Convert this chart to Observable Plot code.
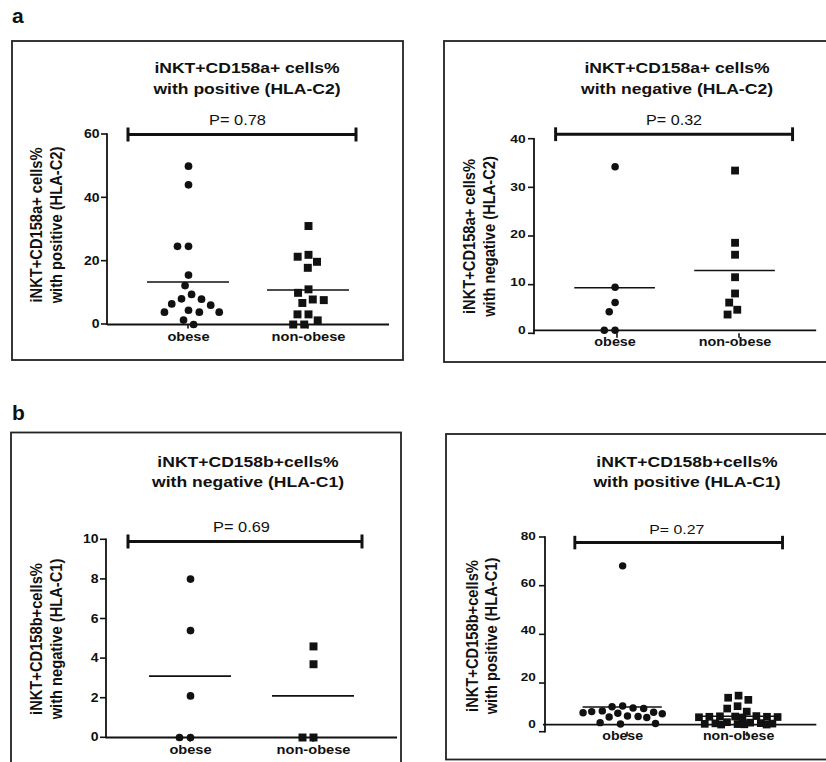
<!DOCTYPE html>
<html><head><meta charset="utf-8">
<script src="https://cdn.jsdelivr.net/npm/d3@7"></script>
<script src="https://cdn.jsdelivr.net/npm/@observablehq/plot@0.6"></script>
<style>
html,body{margin:0;padding:0;background:#fff;}
#page{position:relative;width:826px;height:762px;overflow:hidden;background:#fff;font-family:"Liberation Sans",Arial,Helvetica,sans-serif;}
.plot{position:absolute;}
.plot svg{overflow:visible;}
#overlay{position:absolute;left:0;top:0;pointer-events:none;}
</style></head><body><div id="page"></div>
<script>
// ---------- data ----------
const groups = ["obese", "non-obese"];

// a (left): iNKT+CD158a+ cells% with positive (HLA-C2)
const a1Obese = [50, 44.1, 24.7, 24.7, 15.6, 12.3, 9.5, 8.1, 8.0, 6.5, 6.1, 4.5, 3.9, 3.9, 3.9, 1.4, 0];
const a1NonObese = [31.1, 22.0, 21.4, 19.8, 17.9, 11.1, 10.0, 7.9, 7.7, 6.8, 3.2, 3.2, 1.3, 0, 0];
const a1Means = [13.4, 10.9];

// a (right): iNKT+CD158a+ cells% with negative (HLA-C2)
const a2Obese = [34.2, 9.0, 5.8, 3.9, 0, 0];
const a2NonObese = [33.4, 18.3, 15.8, 11.1, 7.7, 5.8, 4.3, 3.3];
const a2Means = [8.9, 12.5];

// b (left): iNKT+CD158b+cells% with negative (HLA-C1)
const b1Obese = [8.0, 5.4, 2.1, 0, 0];
const b1NonObese = [4.6, 3.7, 0, 0];
const b1Means = [3.1, 2.1];

// b (right): iNKT+CD158b+cells% with positive (HLA-C1)
const b2Obese = [67.5, 7.9, 7.6, 7.0, 6.8, 5.8, 5.5, 5.2, 5.0, 4.8, 4.6, 3.6, 3.4, 3.2, 3.0, 0.8, 0.4, 0.2];
const b2NonObese = [12.3, 11.4, 10.5, 7.8, 6.8, 5.5, 3.6, 3.5, 3.4, 3.3, 3.3, 3.2, 3.1, 3.0, 1.0, 0.8, 0.6, 0.5, 0.4, 0.3, 0.2, 0.1, 0, 0];
const b2Means = [7.5, 3.5];

const pLabels = ["P= 0.78", "P= 0.32", "P= 0.69", "P= 0.27"];
const pBarValues = [60, 41, 9.9, 77.4];
const yTickValues = [[0, 20, 40, 60], [0, 10, 20, 30, 40], [0, 2, 4, 6, 8, 10], [0, 20, 40, 60, 80]];
const titleLines = [
  ["iNKT+CD158a+ cells%", "with positive (HLA-C2)"],
  ["iNKT+CD158a+ cells%", "with negative (HLA-C2)"],
  ["iNKT+CD158b+cells%", "with negative (HLA-C1)"],
  ["iNKT+CD158b+cells%", "with positive (HLA-C1)"]
];
const yLabelLines = titleLines;
const panelLetters = ["a", "b"];

// ---------- layout (pixels) ----------
const layouts = [
  {axisLeft:107, axisRight:389, yTop:134, y0:324, bracketL:128, bracketR:356, pX:237, box:[12,41,391,319], titleX:247, titleY:[73.3,94], ylabX:[41.7,61.5], ylabY:225},
  {axisLeft:534, axisRight:822, yTop:138.7, y0:333.3, bracketL:557, bracketR:798, pX:677, box:[444,41,500,321], titleX:677, titleY:[73.3,94], ylabX:[475,494.5], ylabY:236.5},
  {axisLeft:106, axisRight:397, yTop:539.3, y0:737.3, bracketL:128, bracketR:362, pX:241, box:[11,432.5,390,400], titleX:248, titleY:[466.7,487.3], ylabX:[41.7,61.5], ylabY:639},
  {axisLeft:545, axisRight:828, yTop:537, y0:731.7, bracketL:578, bracketR:793, pX:683, box:[446,434,500,325.5], titleX:687, titleY:[466.7,487.3], ylabX:[478.3,497], ylabY:636}
];
const letterPos = [[12, 23], [12, 420]];

const panels = [
  {obese:a1Obese, nonObese:a1NonObese, means:a1Means},
  {obese:a2Obese, nonObese:a2NonObese, means:a2Means},
  {obese:b1Obese, nonObese:b1NonObese, means:b1Means},
  {obese:b2Obese, nonObese:b2NonObese, means:b2Means}
];

const FONT = '"Liberation Sans", Arial, Helvetica, sans-serif';
const STRETCH = 1.17;
const INK = "#111";
const X_PADDING = 0.674;

// beeswarm-like spreading (Prism style scatter) computed in pixel space
function swarm(gap, maxHalf) {
  return (data, facets, channels, scales) => {
    const X = channels.x.value, Y = channels.y.value;
    const PX = new Float64Array(X.length);
    for (const index of facets) {
      const order = Array.from(index).sort((i, j) => Y[j] - Y[i]);
      const placed = [];
      for (const i of order) {
        const cx = scales.x(X[i]), cy = scales.y(Y[i]);
        const cands = [0];
        for (const p of placed) {
          const dy = cy - p.y;
          if (Math.abs(dy) < gap) {
            const dx = Math.sqrt(gap * gap - dy * dy);
            cands.push(p.dx - dx, p.dx + dx);
          }
        }
        cands.sort((a, b) => Math.abs(a) - Math.abs(b) || a - b);
        let best = null;
        for (const c of cands) {
          if (Math.abs(c) > maxHalf + 1e-6) continue;
          if (placed.every(p => (p.dx - c) ** 2 + (p.y - cy) ** 2 >= gap * gap - 1e-6)) { best = c; break; }
        }
        if (best === null) {
          let bd = -1;
          for (let c = -maxHalf; c <= maxHalf; c += 1) {
            const md = Math.min(...placed.map(p => (p.dx - c) ** 2 + (p.y - cy) ** 2));
            if (md > bd) { bd = md; best = c; }
          }
        }
        placed.push({dx: best, y: cy});
        PX[i] = cx + best;
      }
    }
    return {data, facets, channels: {x: {value: PX}}};
  };
}

function stretchTexts(root, s) {
  root.querySelectorAll("text").forEach(t => {
    const x = parseFloat(t.getAttribute("x")) || 0;
    const tr = t.getAttribute("transform") || "";
    t.setAttribute("transform", (tr + ` translate(${x},0) scale(${s},1) translate(${-x},0)`).trim());
  });
}

const page = document.getElementById("page");
const mL = 60, mT = 30, mR = 10, mB = 40;
const axisParts = [];

panels.forEach((d, k) => {
  const L = layouts[k];
  const fw = L.axisRight - L.axisLeft, fh = L.y0 - L.yTop;
  const ticks = yTickValues[k];
  const yMax = ticks[ticks.length - 1];
  const bl = L.bracketL - L.axisLeft, br = L.axisRight - L.bracketR;
  const pBar = pBarValues[k];
  const left = L.axisLeft - mL, top = L.yTop - mT;
  const svg = Plot.plot({
    width: fw + mL + mR, height: fh + mT + mB,
    marginLeft: mL, marginRight: mR, marginTop: mT, marginBottom: mB,
    style: {fontFamily: FONT, fontSize: "12px", fontWeight: "bold", background: "transparent", overflow: "visible", color: INK},
    x: {type: "point", domain: groups, padding: X_PADDING, axis: null},
    y: {domain: [0, yMax], axis: null},
    marks: [
      // x baseline and tick labels
      Plot.ruleY([0], {stroke: INK, strokeWidth: 1.8}),
      Plot.text(ticks, {y: v => v, text: v => String(v), frameAnchor: "left", dx: -8, textAnchor: "end", fontSize: 12, fontWeight: "bold", fill: INK}),
      Plot.text(groups, {x: g => g, text: g => g, frameAnchor: "bottom", dy: 16, fontSize: 12.5, fontWeight: "bold", fill: INK}),
      // significance bracket
      Plot.ruleY([pBar], {insetLeft: bl, insetRight: br, stroke: INK, strokeWidth: 3}),
      Plot.ruleY([pBar], {insetLeft: bl - 1.5, insetRight: fw - bl - 1.5, stroke: INK, strokeWidth: 14}),
      Plot.ruleY([pBar], {insetLeft: fw - br - 1.5, insetRight: br - 1.5, stroke: INK, strokeWidth: 14}),
      Plot.text([pLabels[k]], {y: () => pBar, text: t => t, frameAnchor: "left", dx: L.pX - L.axisLeft, dy: -13.5, textAnchor: "middle", fontSize: 14, fontWeight: "normal", fill: INK}),
      // means
      Plot.ruleY(d.means, {x1: (v, i) => groups[i], x2: (v, i) => groups[i], y: v => v, insetLeft: -41, insetRight: -41, stroke: INK, strokeWidth: 1.6}),
      // points
      Plot.dot(d.obese, {x: () => groups[0], y: v => v, r: 3.85, symbol: "circle", fill: INK, initializer: swarm(11, 41)}),
      Plot.dot(d.nonObese, {x: () => groups[1], y: v => v, r: 4.5, symbol: "square", fill: INK, initializer: swarm(11, 41)})
    ]
  });
  stretchTexts(svg, STRETCH);
  // positions of axis line / ticks from the plot's own scales
  const sy = svg.scale ? svg.scale("y") : null;
  const sx = svg.scale ? svg.scale("x") : null;
  const yPix = v => top + (sy ? sy.apply(v) : mT + fh * (1 - v / yMax));
  const xPix = g => left + (sx ? sx.apply(g) : mL + fw * (X_PADDING + groups.indexOf(g)) / (1 + 2 * X_PADDING));
  axisParts.push({x: L.axisLeft, yTopPx: yPix(yMax), y0Px: yPix(0), tickPx: ticks.map(yPix), catPx: groups.map(xPix)});
  const holder = document.createElement("div");
  holder.className = "plot";
  holder.style.left = left + "px";
  holder.style.top = top + "px";
  holder.appendChild(svg);
  page.appendChild(holder);
});

// ---------- overlay: axis lines, panel frames, letters, titles, y labels ----------
const ov = d3.select(page).append("svg").attr("id", "overlay").attr("width", 826).attr("height", 762)
  .style("font-family", FONT).style("font-weight", "bold").attr("fill", INK);

axisParts.forEach(a => {
  ov.append("line").attr("x1", a.x).attr("x2", a.x).attr("y1", a.yTopPx - 0.8).attr("y2", a.y0Px + 0.9)
    .attr("stroke", INK).attr("stroke-width", 1.8);
  a.tickPx.forEach(y => ov.append("line").attr("x1", a.x - 6).attr("x2", a.x).attr("y1", y).attr("y2", y)
    .attr("stroke", INK).attr("stroke-width", 1.6));
  a.catPx.forEach(x => ov.append("line").attr("x1", x).attr("x2", x).attr("y1", a.y0Px).attr("y2", a.y0Px + 4.5)
    .attr("stroke", INK).attr("stroke-width", 1.6));
});

layouts.forEach((L, k) => {
  ov.append("rect").attr("x", L.box[0]).attr("y", L.box[1]).attr("width", L.box[2]).attr("height", L.box[3])
    .attr("fill", "none").attr("stroke", "#222").attr("stroke-width", 1.8);
  titleLines[k].forEach((line, j) => {
    ov.append("text").attr("text-anchor", "middle").attr("font-size", 15)
      .attr("transform", `translate(${L.titleX},${L.titleY[j]}) scale(${STRETCH},1)`).text(line);
  });
  yLabelLines[k].forEach((line, j) => {
    ov.append("text").attr("text-anchor", "middle").attr("font-size", 14.7)
      .attr("transform", `translate(${L.ylabX[j]},${L.ylabY}) scale(${STRETCH},1) rotate(-90)`).text(line);
  });
});
panelLetters.forEach((t, i) => {
  ov.append("text").attr("x", letterPos[i][0]).attr("y", letterPos[i][1]).attr("font-size", 21).text(t);
});
</script></body></html>
